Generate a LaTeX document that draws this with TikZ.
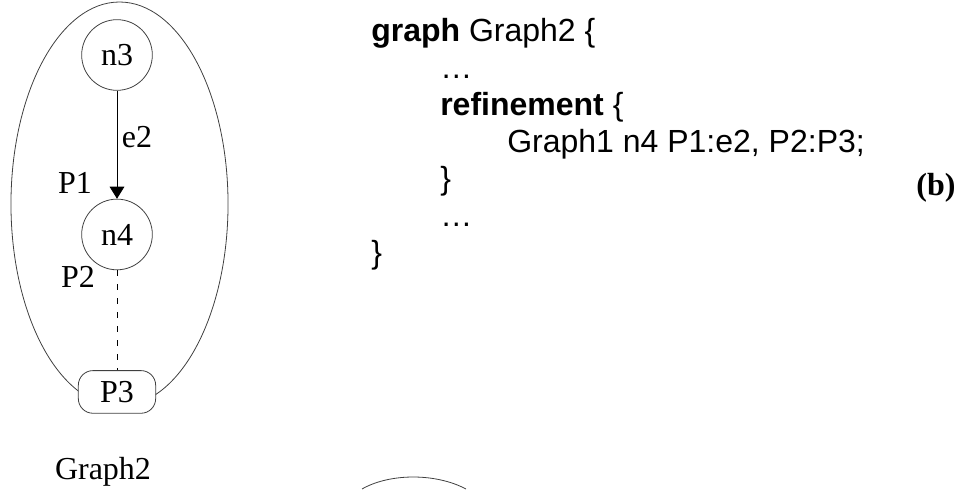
\documentclass[tikz,border=0pt]{standalone}
\usepackage{fontspec}
\setmainfont{Liberation Serif}
\setsansfont{Liberation Sans}
\usetikzlibrary{arrows.meta, shapes.misc, positioning}
\def\lc{black!75}
\def\big{\fontsize{24}{28}\selectfont}
\tikzstyle{vertex} = [circle, minimum size=53pt, inner sep=0pt, draw=\lc, line width=0.6pt, font=\big]
\tikzstyle{port} = [rectangle, rounded corners=11pt, minimum width=58pt, minimum height=32pt, inner sep=0pt, draw=\lc, fill=white, line width=0.6pt, font=\big]
\tikzstyle{lbl} = [font=\big, inner sep=0pt]
\tikzstyle{code} = [anchor=base west, inner sep=0pt, font=\sffamily\big]
\tikzstyle{arr} = [-{Triangle[length=9pt,width=11pt]}, line width=0.6pt]
\tikzstyle{link} = [dash pattern=on 4.5pt off 6pt, line width=0.6pt]

\begin{document}
\begin{tikzpicture}[x=0.75pt, y=-0.75pt]

  \useasboundingbox (0,0) rectangle (963,489);

  % left: Graph2
  \draw [\lc, line width=0.6pt] (119.5,204) ellipse [x radius=81.4pt, y radius=151.5pt];

  \node (n3) [vertex] at (117,55) {n3};
  \node (n4) [vertex, below=81pt of n3] {n4};
  \node (p3) [port, below=75pt of n4] {P3};

  \draw [arr] (n3) -- (n4);
  \draw [link] (n4) -- (p3);

  \node (e2) [lbl] at (137,137) {e2};
  \node (p1) [lbl] at (75,183) {P1};
  \node (p2) [lbl] at (78,277) {P2};
  \node (gname) [lbl] at (103,472) {Graph2};

  % right: textual form
  \node (c1) [code] at (371,41.5) {\textbf{graph} Graph2 \{};
  \node (c2) [code] at (440,78) {\dots};
  \node (c3) [code] at (440,115) {\textbf{refinement} \{};
  \node (c4) [code] at (507,152) {Graph1 n4 P1:e2, P2:P3;};
  \node (c5) [code] at (440,189) {\}};
  \node (c6) [code] at (440,226) {\dots};
  \node (c7) [code] at (371,263) {\}};

  \node (tag) [lbl, font=\big\bfseries] at (936,188) {(b)};

  % next part, cut off
  \draw [\lc, line width=0.6pt] (362,489) .. controls (390,473) and (436,473) .. (466,489);

\end{tikzpicture}
\end{document}
